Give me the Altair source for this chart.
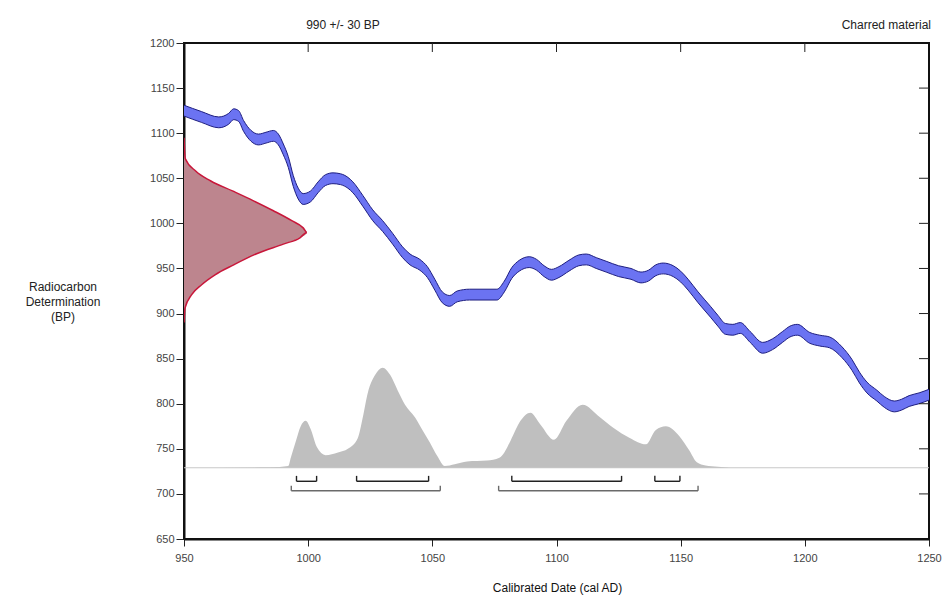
import altair as alt
import pandas as pd

# ---------------- data ----------------
curve_year = [950, 957, 964, 968, 970, 972, 974, 977, 980, 983, 986, 988, 990, 992, 994,
              996, 998, 1001, 1004, 1007, 1010, 1013, 1016, 1018, 1022, 1026, 1030, 1034,
              1038, 1041, 1045, 1048, 1051, 1054, 1057, 1060, 1065, 1070, 1076, 1079, 1082,
              1085, 1089, 1092, 1095, 1098, 1101, 1105, 1109, 1112, 1116, 1120, 1125, 1130,
              1134, 1137, 1140, 1143, 1147, 1150, 1153, 1157, 1162, 1165, 1168, 1171, 1174,
              1178, 1183, 1187, 1191, 1194, 1197, 1202, 1206, 1210, 1215, 1219, 1222, 1225,
              1229, 1232, 1236, 1239, 1242, 1246, 1250]
curve_bp = [1125, 1118, 1112, 1116, 1121, 1119, 1108, 1097, 1093, 1095, 1097, 1093, 1082, 1068,
            1047, 1033, 1027, 1030, 1040, 1048, 1050, 1049, 1045, 1040, 1025, 1009, 997, 983,
            968, 960, 954, 946, 932, 918, 914, 919, 921, 921, 921, 930, 945, 953, 957, 954,
            947, 943, 946, 953, 959, 960, 956, 952, 947, 944, 940, 942, 948, 950, 947, 941,
            932, 918, 902, 892, 883, 882, 884, 874, 862, 866, 874, 880, 882, 873, 870, 868,
            857, 843, 829, 818, 809, 802, 797, 799, 803, 806, 810]

hist_year = [950, 985, 992, 993, 995, 997, 999, 1001, 1003.5, 1007, 1012, 1016, 1020, 1022,
             1024, 1027, 1030, 1033, 1036, 1039, 1043, 1046, 1049, 1052, 1055, 1059, 1064,
             1072, 1077, 1079, 1081.5, 1085.5, 1089.5, 1093.5, 1099, 1104, 1110.5, 1117.5,
             1123, 1129.5, 1136, 1140, 1144, 1149.5, 1153.5, 1156.5, 1160, 1165, 1170, 1250]
hist_bp = [729, 729.5, 731, 740, 758, 775, 781, 772, 752, 743, 746, 750, 762, 785, 812, 832,
           840, 832, 815, 799, 785, 771, 757, 742, 731, 733, 736, 737, 740, 746, 759, 781,
           790, 777, 760, 781, 799, 785, 773, 762, 755, 771, 775, 764, 748, 735, 731.5, 730,
           729, 729]

gauss_bp = [1095, 1072, 1058, 1047, 1036, 1025, 1014, 1003, 995, 990, 984, 977, 966, 954,
            943, 932, 921, 906, 890]
gauss_width = [0, 0.5, 4.7, 10.8, 19.5, 28, 36, 43.4, 48, 49.5, 46.7, 40, 29, 20, 12.5, 7.1,
               3.1, 0.4, 0]

range68_start = [995.3, 1019.5, 1082.0, 1139.6]
range68_end = [1003.4, 1048.5, 1126.2, 1149.7]
range95_start = [993.2, 1076.7]
range95_end = [1053.2, 1157.0]

x_ticks = [950, 1000, 1050, 1100, 1150, 1200, 1250]
y_ticks = [650, 700, 750, 800, 850, 900, 950, 1000, 1050, 1100, 1150, 1200]

HIST_BASE = 729
CURVE_SIGMA = 6
X_MIN, X_MAX = 950, 1250
Y_MIN, Y_MAX = 650, 1200

# ---------------- layout / style ----------------
W, H = 745, 496
FONT = "Liberation Sans"
BLUE_FILL = "#6b73f2"
BLUE_EDGE = "#1e1e80"
ROSE_FILL = "#bd858e"
ROSE_EDGE = "#c8173a"
GREY = "#bfbfbf"

xs = alt.Scale(domain=[X_MIN, X_MAX], nice=False, zero=False)
ys = alt.Scale(domain=[Y_MIN, Y_MAX], nice=False, zero=False)

x_axis = alt.Axis(values=x_ticks, format="d", title="Calibrated Date (cal AD)",
                  titleFont=FONT, titleFontSize=12, titleFontWeight="normal",
                  titleColor="#111", titleX=373, titleY=48, titleBaseline="middle",
                  labelFont=FONT, labelFontSize=11, labelColor="#444", labelPadding=6,
                  labelFlush=False, tickSize=7, tickColor="#222", tickWidth=1,
                  domainColor="#111", domainWidth=2, grid=False)
y_axis = alt.Axis(values=y_ticks, format="d", title="",
                  labelFont=FONT, labelFontSize=11, labelColor="#444", labelPadding=2,
                  labelFlush=False, tickSize=8, tickColor="#222", tickWidth=1,
                  domainColor="#111", domainWidth=2, grid=False)


def X(field):
    return alt.X(field, type="quantitative", scale=xs, axis=x_axis)


def Y(field):
    return alt.Y(field, type="quantitative", scale=ys, axis=y_axis)


curve_df = pd.DataFrame({"year": curve_year, "bp": curve_bp})
hist_df = pd.DataFrame({"year": hist_year, "bp": hist_bp})
gauss_df = pd.DataFrame({"bp": gauss_bp, "w": gauss_width})

rows = []
for grp, starts, ends, lev, top in [("68", range68_start, range68_end, 714, 720),
                                     ("95", range95_start, range95_end, 703.5, 709)]:
    for s, e in zip(starts, ends):
        rows.append({"grp": grp, "xa": s, "xb": e, "ya": lev, "yb": lev})
        rows.append({"grp": grp, "xa": s, "xb": s, "ya": lev, "yb": top})
        rows.append({"grp": grp, "xa": e, "xb": e, "ya": lev, "yb": top})
br_df = pd.DataFrame(rows)

one = pd.DataFrame({"a": [0]})

baseline = alt.Chart(pd.DataFrame({"b": [HIST_BASE]})).mark_rule(
    color="#c8c8c8", strokeWidth=1).encode(
    y=Y("b"), x=alt.value(0), x2=alt.value(W))

hist = alt.Chart(hist_df).mark_area(color=GREY, interpolate="monotone", clip=True).encode(
    x=X("year"), y=Y("bp"), y2=alt.datum(HIST_BASE))

brackets = alt.Chart(br_df).mark_rule(strokeWidth=1.4).encode(
    x=X("xa"), x2="xb:Q", y=Y("ya"), y2="yb:Q",
    color=alt.Color("grp:N", scale=alt.Scale(domain=["68", "95"], range=["#222222", "#6a6a6a"]),
                    legend=None))

gauss_area = alt.Chart(gauss_df).transform_calculate(
    xv=f"{X_MIN} + datum.w").mark_area(
    orient="horizontal", color=ROSE_FILL, interpolate="monotone", clip=True).encode(
    y=Y("bp"), x=X("xv"), x2=alt.datum(X_MIN))

gauss_line = alt.Chart(gauss_df).transform_calculate(
    xv=f"{X_MIN} + datum.w").mark_line(
    color=ROSE_EDGE, strokeWidth=1.5, interpolate="monotone", clip=True).encode(
    y=Y("bp"), x=X("xv"), order=alt.Order("bp:Q"))

band_base = alt.Chart(curve_df).transform_calculate(
    lo=f"datum.bp - {CURVE_SIGMA}", hi=f"datum.bp + {CURVE_SIGMA}")

band = band_base.mark_area(color=BLUE_FILL, interpolate="monotone", clip=True).encode(
    x=X("year"), y=Y("lo"), y2="hi:Q")
band_lo = band_base.mark_line(color=BLUE_EDGE, strokeWidth=1, interpolate="monotone",
                              clip=True).encode(x=X("year"), y=Y("lo"))
band_hi = band_base.mark_line(color=BLUE_EDGE, strokeWidth=1, interpolate="monotone",
                              clip=True).encode(x=X("year"), y=Y("hi"))

top_ticks = alt.Chart(pd.DataFrame({"t": x_ticks[1:-1]})).mark_rule(
    color="#222", strokeWidth=1).encode(
    x=X("t"), y=alt.value(0), y2=alt.value(9))
right_ticks = alt.Chart(pd.DataFrame({"t": y_ticks[1:-1]})).mark_rule(
    color="#222", strokeWidth=1).encode(
    y=Y("t"), x=alt.value(W - 10), x2=alt.value(W))

lab_date = alt.Chart(one).mark_text(
    text="990 +/- 30 BP", font=FONT, fontSize=12, color="#222", align="center",
    baseline="middle").encode(x=alt.value(159), y=alt.value(-18))
lab_mat = alt.Chart(one).mark_text(
    text="Charred material", font=FONT, fontSize=12, color="#222", align="right",
    baseline="middle").encode(x=alt.value(747), y=alt.value(-18))
lab_y = alt.Chart(one).mark_text(
    text="Radiocarbon\nDetermination\n(BP)", lineBreak="\n", lineHeight=15, font=FONT,
    fontSize=12, color="#222", align="center", baseline="middle").encode(
    x=alt.value(-121), y=alt.value(244))

chart = alt.layer(
    baseline, hist, brackets, gauss_area, gauss_line, band, band_lo, band_hi,
    top_ticks, right_ticks, lab_date, lab_mat, lab_y
).properties(
    width=W, height=H,
    autosize=alt.AutoSizeParams(type="none"),
    padding={"left": 176, "top": 35, "right": 13, "bottom": 56},
).configure(
    font=FONT, background="white"
).configure_view(
    stroke="#111", strokeWidth=2
)

chart.save("out.html", embed_options={"renderer": "svg", "actions": False})
